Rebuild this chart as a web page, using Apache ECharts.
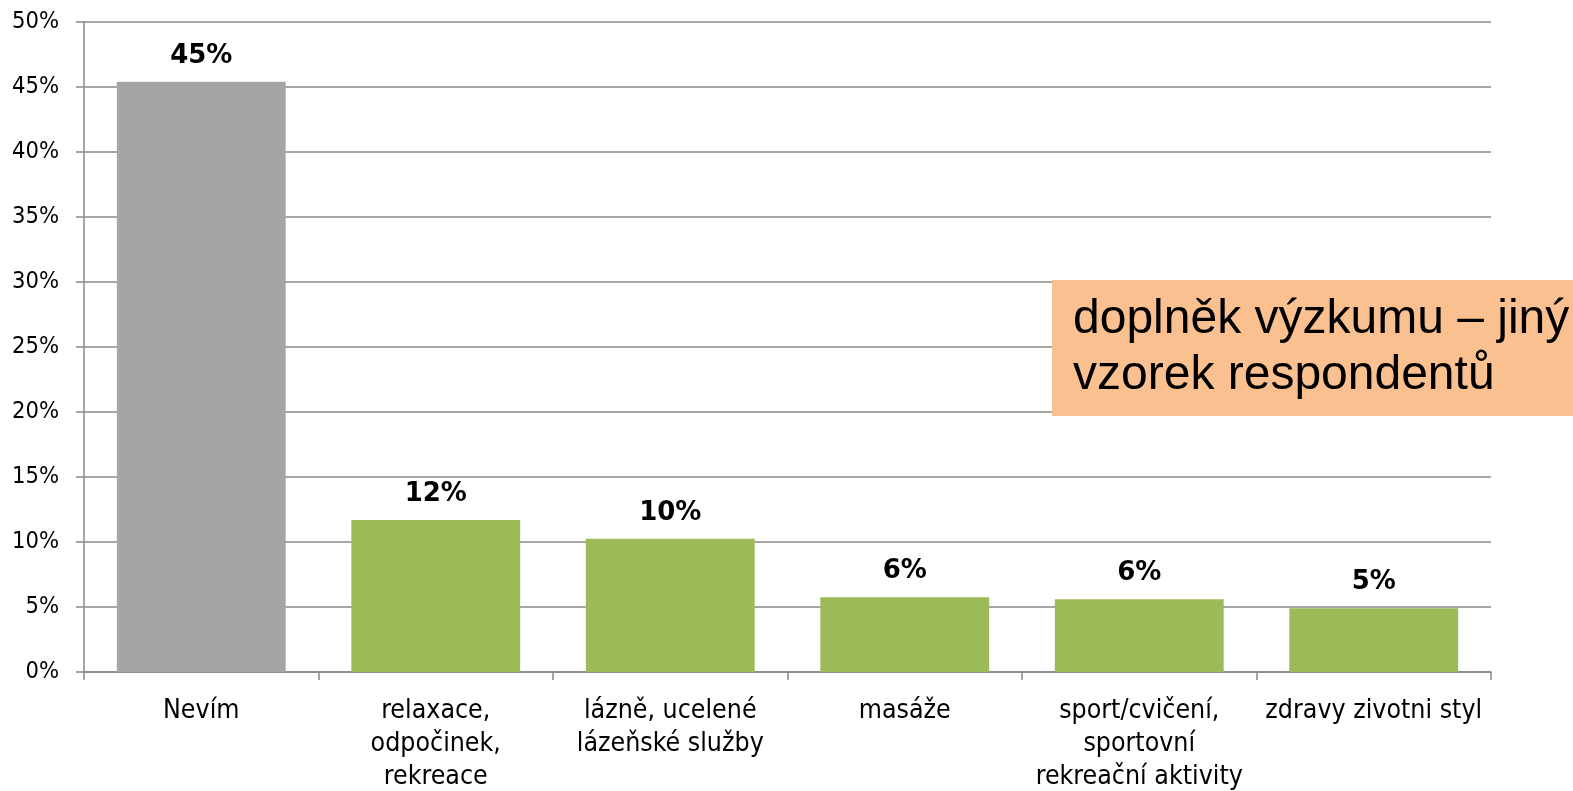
<!DOCTYPE html>
<html>
<head>
<meta charset="utf-8">
<script src="https://cdn.jsdelivr.net/npm/echarts@6/dist/echarts.min.js"></script>
<style>
html,body{margin:0;padding:0;background:#fff;}
#chart{width:1573px;height:791px;}
</style>
</head>
<body>
<div id="chart"></div>
<script>
const categories = [
  "Nevím",
  "relaxace,\nodpočinek,\nrekreace",
  "lázně, ucelené\nlázeňské služby",
  "masáže",
  "sport/cvičení,\nsportovní\nrekreační aktivity",
  "zdravy zivotni styl"
];
const values = [45.4, 11.7, 10.25, 5.75, 5.6, 4.9];
const barColors = ["#A5A5A5", "#9BBB59", "#9BBB59", "#9BBB59", "#9BBB59", "#9BBB59"];
const yTicks = { min: 0, max: 50, interval: 5 };
const noteLines = ["doplněk výzkumu – jiný", "vzorek respondentů"];

const chart = echarts.init(document.getElementById('chart'));
const axisColor = '#888888';
const labelFont = '"DejaVu Sans Condensed", "DejaVu Sans", sans-serif';
chart.setOption({
  animation: false,
  backgroundColor: '#ffffff',
  grid: { left: 84, right: 82, top: 22, bottom: 119, containLabel: false, outerBoundsMode: 'none' },
  xAxis: {
    type: 'category',
    data: categories,
    axisLine: { lineStyle: { color: axisColor, width: 1.5 } },
    axisTick: { show: true, length: 8, lineStyle: { color: axisColor, width: 1.5 } },
    axisLabel: {
      color: '#000', fontFamily: labelFont, fontSize: 26.5, lineHeight: 33,
      margin: 23, interval: 0
    }
  },
  yAxis: {
    type: 'value',
    min: yTicks.min, max: yTicks.max, interval: yTicks.interval,
    axisLine: { show: true, lineStyle: { color: axisColor, width: 1.5 } },
    axisTick: { show: true, length: 8, lineStyle: { color: axisColor, width: 1.5 } },
    splitLine: { show: true, lineStyle: { color: axisColor, width: 1.5 } },
    axisLabel: {
      color: '#000', fontFamily: labelFont, fontSize: 23.5, margin: 25,
      formatter: '{value}%'
    }
  },
  series: [{
    type: 'bar',
    data: values.map((v, i) => ({ value: v, itemStyle: { color: barColors[i] } })),
    barCategoryGap: '28%',
    label: {
      show: true, position: 'top', distance: 13,
      color: '#000', fontFamily: 'DejaVu Sans', fontWeight: 'bold', fontSize: 26,
      formatter: p => Math.round(p.value) + '%'
    }
  }],
  graphic: [{
    type: 'group',
    left: 1052, top: 280, z: 100,
    children: [
      { type: 'rect', z: 100, shape: { x: 0, y: 0, width: 521, height: 136 }, style: { fill: '#FAC090' } },
      { type: 'text', z: 101, x: 21, y: 12, style: {
          text: noteLines.join('\n'), fill: '#000',
          font: '48px "Liberation Sans", Arial, sans-serif', lineHeight: 56
      } }
    ]
  }]
});
</script>
</body>
</html>
